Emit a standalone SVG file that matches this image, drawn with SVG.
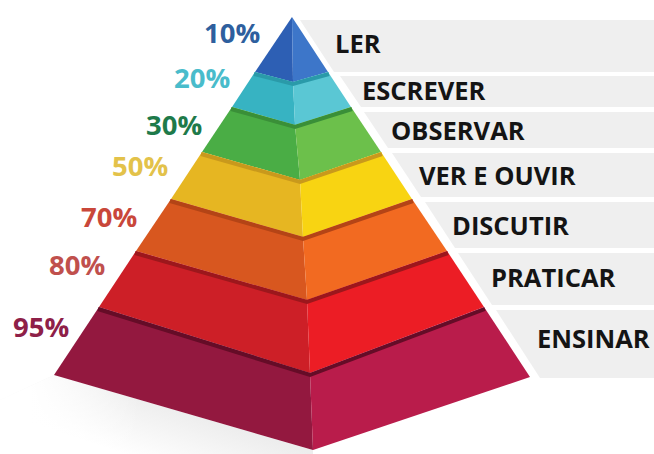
<svg xmlns="http://www.w3.org/2000/svg" width="654" height="454" viewBox="0 0 654 454">
<defs>
<style>
.band{fill:#efefef}
.pct{font-family:"Open Sans","Liberation Sans",sans-serif;font-weight:700;font-size:27.5px}
.lbl{font-family:"Open Sans","Liberation Sans",sans-serif;font-weight:700;font-size:25.5px;fill:#141414}
.ledge{fill:none;stroke-width:4;stroke-linejoin:miter}
</style>
<linearGradient id="shadow" gradientUnits="userSpaceOnUse" x1="190" y1="412" x2="170" y2="470">
<stop offset="0" stop-color="#ededed"/>
<stop offset="1" stop-color="#ffffff"/>
</linearGradient>
<linearGradient id="fadeL" gradientUnits="userSpaceOnUse" x1="30" y1="0" x2="140" y2="0">
<stop offset="0" stop-color="#ffffff" stop-opacity="1"/>
<stop offset="1" stop-color="#ffffff" stop-opacity="0"/>
</linearGradient>
</defs>
<rect width="654" height="454" fill="#ffffff"/>
<g id="bands">
<polygon class="band" points="300,20 654,20 654,72 334,72"/>
<polygon class="band" points="340,76 654,76 654,107 361,107"/>
<polygon class="band" points="364,112 654,112 654,148 388,148"/>
<polygon class="band" points="392,153 654,153 654,197 421,197"/>
<polygon class="band" points="425,202 654,202 654,248 455,248"/>
<polygon class="band" points="458,253 654,253 654,305 492,305"/>
<polygon class="band" points="496,310 654,310 654,378 540,378"/>
</g>
<g id="shadow-area">
<polygon points="54,375 313,450 313,454 0,454 0,400" fill="url(#shadow)"/>
<polygon points="54,375 150,403 150,454 0,454 0,400" fill="url(#fadeL)"/>
</g>
<g id="tier-ler">
<polygon points="292,17 255,72 293,82" fill="#2d5fb4"/>
<polygon points="292,17 293,82 328,72" fill="#3d76c9"/>
</g>
<g id="tier-escrever">
<polygon points="255,72 232,107 295,125 293,82" fill="#37b3c2"/>
<polygon points="293,82 295,125 351,107 328,72" fill="#5ac7d4"/>
<polyline class="ledge" points="254,74 293,84 329,74" stroke="#2a9aa9"/>
</g>
<g id="tier-observar">
<polygon points="232,107 202,152 300,180 295,125" fill="#4aad45"/>
<polygon points="295,125 300,180 381,152 351,107" fill="#6cc04b"/>
<polyline class="ledge" points="231,109 295,127 352,109" stroke="#3a8f38"/>
</g>
<g id="tier-ver-e-ouvir">
<polygon points="202,152 171,199 303,237 300,180" fill="#e6b622"/>
<polygon points="300,180 303,237 412,199 381,152" fill="#f8d412"/>
<polyline class="ledge" points="201,154 300,182 382,154" stroke="#c9991c"/>
</g>
<g id="tier-discutir">
<polygon points="171,199 136,251 307,300 303,237" fill="#d8571f"/>
<polygon points="303,237 307,300 447,251 412,199" fill="#f26a21"/>
<polyline class="ledge" points="170,201 303,239 413,201" stroke="#b44416"/>
</g>
<g id="tier-praticar">
<polygon points="136,251 99,307 310,373 307,300" fill="#cd1f27"/>
<polygon points="307,300 310,373 484,307 447,251" fill="#ec1d25"/>
<polyline class="ledge" points="135,253 307,302 448,253" stroke="#9c171c"/>
</g>
<g id="tier-ensinar">
<polygon points="99,307 54,375 313,450 310,373" fill="#93183f"/>
<polygon points="310,373 313,450 530,377 484,307" fill="#b91c4b"/>
<polyline class="ledge" points="98,309 310,375 485,309" stroke="#650c27"/>
</g>
<g id="percentages">
<text class="pct" x="204" y="43" fill="#2e5f9e">10%</text>
<text class="pct" x="174" y="88" fill="#49bccb">20%</text>
<text class="pct" x="146" y="135" fill="#1e7a4a">30%</text>
<text class="pct" x="112" y="176" fill="#e3c24a">50%</text>
<text class="pct" x="81" y="227" fill="#c9473a">70%</text>
<text class="pct" x="49" y="275" fill="#c0504d">80%</text>
<text class="pct" x="13" y="337" fill="#8e2048">95%</text>
</g>
<g id="labels">
<text class="lbl" x="335" y="53">LER</text>
<text class="lbl" x="362" y="100">ESCREVER</text>
<text class="lbl" x="391" y="140">OBSERVAR</text>
<text class="lbl" x="419" y="185">VER E OUVIR</text>
<text class="lbl" x="452" y="235">DISCUTIR</text>
<text class="lbl" x="491" y="287">PRATICAR</text>
<text class="lbl" x="537" y="348">ENSINAR</text>
</g>
</svg>
